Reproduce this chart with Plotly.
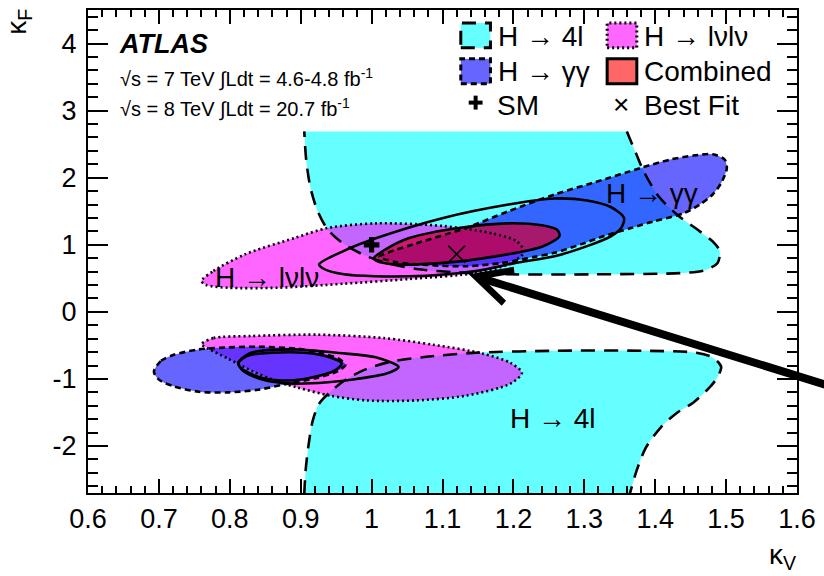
import plotly.graph_objects as go

# ---------------- data ----------------
x_range = [0.6, 1.6]
y_range = [-2.7, 4.5]
x_tickvals = [0.6, 0.7, 0.8, 0.9, 1.0, 1.1, 1.2, 1.3, 1.4, 1.5, 1.6]
x_ticktext = ["0.6", "0.7", "0.8", "0.9", "1", "1.1", "1.2", "1.3", "1.4", "1.5", "1.6"]
y_tickvals = [-2, -1, 0, 1, 2, 3, 4]
y_ticktext = ["-2", "-1", "0", "1", "2", "3", "4"]

# H -> 4l contour (upper lobe), open at the top edge
h4l_up_kv = [1.360, 1.373, 1.384, 1.405, 1.433, 1.463, 1.481, 1.491, 1.488, 1.470, 1.440, 1.314,
             1.193, 1.119, 1.063, 1.021, 0.993, 0.961, 0.938, 0.924, 0.914, 0.908, 0.905]
h4l_up_kf = [2.69, 2.36, 2.09, 1.72, 1.43, 1.20, 1.05, 0.91, 0.73, 0.62, 0.58, 0.56,
             0.56, 0.59, 0.64, 0.73, 0.83, 1.01, 1.23, 1.50, 1.84, 2.24, 2.69]
# H -> 4l contour (lower lobe), open at the bottom edge
h4l_lo_kv = [0.905, 0.907, 0.911, 0.917, 0.926, 0.942, 0.965, 0.993, 1.028, 1.077, 1.147, 1.258,
             1.384, 1.458, 1.481, 1.493, 1.488, 1.479, 1.454, 1.430, 1.408, 1.387, 1.374, 1.364]
h4l_lo_kf = [-2.72, -2.36, -1.99, -1.62, -1.37, -1.19, -1.00, -0.85, -0.74, -0.67, -0.61, -0.58,
             -0.58, -0.61, -0.68, -0.82, -0.97, -1.10, -1.35, -1.51, -1.72, -2.02, -2.36, -2.72]

# H -> lvlv contours
hww_up_kv = [0.760, 0.777, 0.822, 0.891, 0.938, 1.007, 1.101, 1.170, 1.205, 1.215, 1.193, 1.147,
             1.053, 0.961, 0.868, 0.798, 0.767]
hww_up_kf = [0.46, 0.61, 0.86, 1.10, 1.25, 1.32, 1.28, 1.17, 1.05, 0.89, 0.71, 0.58,
             0.49, 0.42, 0.36, 0.36, 0.40]
hww_lo_kv = [0.760, 0.777, 0.830, 0.924, 1.017, 1.087, 1.156, 1.196, 1.212, 1.196, 1.133, 1.063,
             0.993, 0.942, 0.896, 0.868, 0.833, 0.798, 0.770]
hww_lo_kf = [-0.48, -0.39, -0.36, -0.34, -0.39, -0.49, -0.62, -0.76, -0.91, -1.07, -1.25, -1.32,
             -1.32, -1.25, -1.13, -1.04, -0.89, -0.70, -0.55]

# H -> gamma gamma contours
hgg_up_kv = [1.011, 1.063, 1.133, 1.193, 1.258, 1.314, 1.381, 1.421, 1.454, 1.481, 1.498, 1.501,
             1.493, 1.481, 1.463, 1.440, 1.398, 1.366, 1.328, 1.296, 1.258, 1.230, 1.184, 1.133,
             1.077, 1.035]
hgg_up_kf = [0.82, 1.02, 1.25, 1.50, 1.75, 1.93, 2.15, 2.27, 2.33, 2.35, 2.27, 2.14,
             1.92, 1.75, 1.60, 1.47, 1.35, 1.25, 1.13, 1.01, 0.88, 0.82, 0.73, 0.68,
             0.70, 0.74]
hgg_lo_kv = [0.693, 0.703, 0.721, 0.756, 0.798, 0.840, 0.896, 0.931, 0.954, 0.963, 0.951, 0.924,
             0.882, 0.840, 0.798, 0.756, 0.721, 0.700]
hgg_lo_kf = [-0.89, -0.73, -0.64, -0.56, -0.53, -0.52, -0.55, -0.62, -0.70, -0.79, -0.89, -0.98,
             -1.07, -1.16, -1.20, -1.19, -1.11, -1.01]

# Combined: 68% (filled) and 95% contours
comb68_up_kv = [1.003, 1.021, 1.053, 1.123, 1.193, 1.240, 1.262, 1.265, 1.240, 1.170, 1.101, 1.031, 1.007]
comb68_up_kf = [0.80, 0.94, 1.10, 1.25, 1.32, 1.29, 1.22, 1.13, 0.97, 0.82, 0.73, 0.71, 0.76]
comb95_up_kv = [0.926, 0.961, 1.007, 1.101, 1.193, 1.258, 1.304, 1.338, 1.356, 1.352, 1.338, 1.304,
                1.258, 1.203, 1.147, 1.053, 0.961, 0.931]
comb95_up_kf = [0.71, 0.91, 1.10, 1.40, 1.60, 1.69, 1.66, 1.56, 1.40, 1.25, 1.13, 0.98,
                0.83, 0.73, 0.61, 0.53, 0.56, 0.65]
comb68_lo_kv = [0.812, 0.826, 0.858, 0.905, 0.942, 0.958, 0.947, 0.905, 0.868, 0.836, 0.815]
comb68_lo_kf = [-0.76, -0.65, -0.61, -0.61, -0.68, -0.77, -0.88, -1.00, -1.02, -0.95, -0.83]
comb95_lo_kv = [0.812, 0.830, 0.896, 0.951, 1.007, 1.038, 1.021, 0.979, 0.938, 0.891, 0.847, 0.819]
comb95_lo_kf = [-0.76, -0.61, -0.56, -0.61, -0.68, -0.82, -0.92, -1.00, -1.05, -1.07, -1.01, -0.88]

sm_kv, sm_kf = [1.0], [1.0]
best_kv, best_kf = [1.12], [0.86]

# ---------------- styles ----------------
FONT = "Liberation Sans"
C_4L = "rgb(102,255,255)"
C_WW = "rgba(255,0,255,0.6)"
C_GG = "rgba(25,25,255,0.667)"
C_COMB = "rgba(205,0,60,0.75)"
C_COMB_LEG = "rgb(255,102,102)"
D_4L = "14px,9px"
D_GG = "6px,4px"
D_WW = "2px,3px"

L, R, T, B = 88, 19, 8, 83
W, H = 824, 576
PW, PH = W - L - R, H - T - B


def px(xp):
    return (xp - L) / PW


def py(yp):
    return (H - B - yp) / PH


def closed(a):
    return list(a) + [a[0]]


fig = go.Figure()


def add_fill(xs, ys, color):
    fig.add_trace(go.Scatter(x=xs, y=ys, mode="lines", fill="toself", fillcolor=color,
                             line=dict(width=0, shape="spline", smoothing=0.8),
                             hoverinfo="skip", showlegend=False))


def add_line(xs, ys, dash, width=2.6):
    fig.add_trace(go.Scatter(x=xs, y=ys, mode="lines",
                             line=dict(color="black", width=width, dash=dash,
                                       shape="spline", smoothing=0.8),
                             hoverinfo="skip", showlegend=False))


# fills
add_fill(h4l_up_kv, h4l_up_kf, C_4L)
add_fill(h4l_lo_kv, h4l_lo_kf, C_4L)
add_fill(closed(hww_up_kv), closed(hww_up_kf), C_WW)
add_fill(closed(hww_lo_kv), closed(hww_lo_kf), C_WW)
add_fill(closed(hgg_up_kv), closed(hgg_up_kf), C_GG)
add_fill(closed(hgg_lo_kv), closed(hgg_lo_kf), C_GG)
add_fill(closed(comb68_up_kv), closed(comb68_up_kf), C_COMB)

# contour lines
add_line(h4l_up_kv, h4l_up_kf, D_4L)
add_line(h4l_lo_kv, h4l_lo_kf, D_4L)
add_line(closed(hww_up_kv), closed(hww_up_kf), D_WW)
add_line(closed(hww_lo_kv), closed(hww_lo_kf), D_WW)
add_line(closed(hgg_up_kv), closed(hgg_up_kf), D_GG)
add_line(closed(hgg_lo_kv), closed(hgg_lo_kf), D_GG)
add_line(closed(comb68_up_kv), closed(comb68_up_kf), "solid")
add_line(closed(comb95_up_kv), closed(comb95_up_kf), "solid")
add_line(closed(comb68_lo_kv), closed(comb68_lo_kf), "solid")
add_line(closed(comb95_lo_kv), closed(comb95_lo_kf), "solid")

# markers
fig.add_trace(go.Scatter(x=sm_kv, y=sm_kf, mode="markers",
                         marker=dict(symbol="cross", size=13, color="black"),
                         hoverinfo="skip", showlegend=False))
fig.add_trace(go.Scatter(x=best_kv, y=best_kf, mode="markers",
                         marker=dict(symbol="x-thin-open", size=17, color="black",
                                     line=dict(color="black", width=1.6)),
                         hoverinfo="skip", showlegend=False))

axis_common = dict(showline=True, linecolor="black", linewidth=2, mirror="allticks",
                   ticks="inside", tickcolor="black", tickwidth=2, showgrid=False,
                   zeroline=False, tickfont=dict(family=FONT, size=27, color="black"))
fig.update_xaxes(range=x_range, tickmode="array", tickvals=x_tickvals, ticktext=x_ticktext,
                 ticklen=14, ticklabelstandoff=1,
                 minor=dict(ticks="inside", dtick=0.02, ticklen=7, tickwidth=1.5,
                            tickcolor="black", showgrid=False),
                 **axis_common)
fig.update_yaxes(range=y_range, tickmode="array", tickvals=y_tickvals, ticktext=y_ticktext,
                 ticklen=20, ticklabelstandoff=4,
                 minor=dict(ticks="inside", dtick=0.2, ticklen=10, tickwidth=1.5,
                            tickcolor="black", showgrid=False),
                 **axis_common)

shapes = []
ann = []


def legend_box(x0, y0, color, dash):
    shapes.append(dict(type="rect", xref="paper", yref="paper",
                       x0=px(x0), x1=px(x0 + 30), y0=py(y0 + 25), y1=py(y0),
                       fillcolor=color, line=dict(color="black", width=3, dash=dash),
                       layer="above"))


legend_box(465, 21, C_4L, D_4L)
legend_box(613, 21, C_WW, D_WW)
legend_box(465, 57, C_GG, D_GG)
legend_box(613, 57, C_COMB_LEG, "solid")
# SM plus symbol in legend
shapes.append(dict(type="line", xref="paper", yref="paper", x0=px(473), x1=px(487),
                   y0=py(101), y1=py(101), line=dict(color="black", width=4)))
shapes.append(dict(type="line", xref="paper", yref="paper", x0=px(480), x1=px(480),
                   y0=py(94), y1=py(108), line=dict(color="black", width=4)))


def text(x, y, s, size=28, xanchor="left", xref="paper", yref="paper", **kw):
    ann.append(dict(x=x, y=y, xref=xref, yref=yref, text=s, showarrow=False,
                    xanchor=xanchor, yanchor="middle",
                    font=dict(family=FONT, size=size, color="black"), **kw))


text(px(501), py(35), "H → 4l")
text(px(648), py(35), "H → lνlν")
text(px(501), py(70), "H → γγ")
text(px(648), py(70), "Combined")
text(px(500), py(104), "SM")
text(px(627), py(103), "×", xanchor="center")
text(px(648), py(104), "Best Fit")

text(px(117), py(42), "<b><i>ATLAS</i></b>", size=27)
text(px(118), py(76), "√s = 7 TeV ∫Ldt = 4.6-4.8 fb<sup>-1</sup>", size=20)
text(px(118), py(106), "√s = 8 TeV ∫Ldt = 20.7 fb<sup>-1</sup>", size=20)

text(1.395, 1.77, "H → γγ", xanchor="center", xref="x", yref="y")
text(0.852, 0.51, "H → lνlν", xanchor="center", xref="x", yref="y")
text(1.256, -1.59, "H → 4l", xanchor="center", xref="x", yref="y")

text(px(18), py(20), "κ<sub>F</sub>", xanchor="center", textangle=-90)
text(px(790), py(557), "κ<sub>V</sub>", xanchor="center")

# arrow
ann.append(dict(x=1.137, y=0.56, xref="x", yref="y", ax=1.66, ay=-1.15,
                axref="x", ayref="y", text="", showarrow=True, arrowhead=5,
                arrowsize=0.85, arrowwidth=8, arrowcolor="black", standoff=0))

fig.update_layout(width=W, height=H, margin=dict(l=L, r=R, t=T, b=B, pad=0),
                  plot_bgcolor="white", paper_bgcolor="white",
                  shapes=shapes, annotations=ann, showlegend=False)

fig.write_html("out.html")
